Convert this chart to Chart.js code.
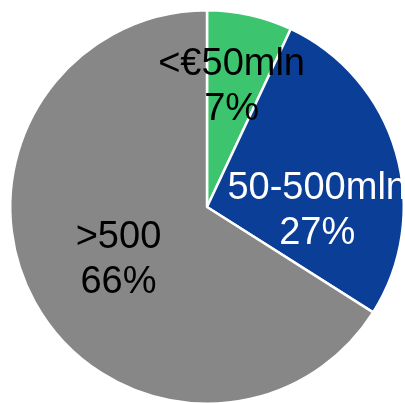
<!DOCTYPE html>
<html>
<head>
<meta charset="utf-8">
<script src="https://cdn.jsdelivr.net/npm/chart.js@4"></script>
<style>
  html, body { margin: 0; padding: 0; background: #fff; overflow: hidden; }
  #wrap { position: absolute; left: 0; top: 0; width: 414px; height: 414px; }
</style>
</head>
<body>
<div id="wrap"><canvas id="pieChart"></canvas></div>
<script>
const categories = ['<€50mln', '50-500mln', '>500'];
const shares = [7, 27, 66];
const sliceColors = ['#3cc46e', '#0b3f97', '#878787'];
const labelColors = ['#000000', '#ffffff', '#000000'];

// label placement, as fractions of the radius from the pie centre
const labelSpots = [[0.125, -0.61], [0.56, 0.02], [-0.45, 0.27]];

const sliceLabels = {
  id: 'sliceLabels',
  afterDatasetsDraw(chart) {
    const ctx = chart.ctx;
    const arcs = chart.getDatasetMeta(0).data;
    ctx.save();
    ctx.font = '38px "Liberation Sans", Arial, sans-serif';
    ctx.textAlign = 'center';
    ctx.textBaseline = 'middle';
    arcs.forEach((arc, i) => {
      const r = arc.outerRadius;
      const x = arc.x + labelSpots[i][0] * r;
      const y = arc.y + labelSpots[i][1] * r;
      ctx.fillStyle = labelColors[i];
      ctx.fillText(categories[i], x, y - 22.5);
      ctx.fillText(shares[i] + '%', x, y + 22.5);
    });
    ctx.restore();
  }
};

new Chart(document.getElementById('pieChart').getContext('2d'), {
  type: 'pie',
  data: {
    labels: categories,
    datasets: [{
      data: shares,
      backgroundColor: sliceColors,
      borderColor: '#ffffff',
      borderWidth: 2.5
    }]
  },
  options: {
    responsive: true,
    maintainAspectRatio: false,
    animation: false,
    layout: { padding: 9 },
    plugins: {
      legend: { display: false },
      tooltip: { enabled: false }
    }
  },
  plugins: [sliceLabels]
});
</script>
</body>
</html>
